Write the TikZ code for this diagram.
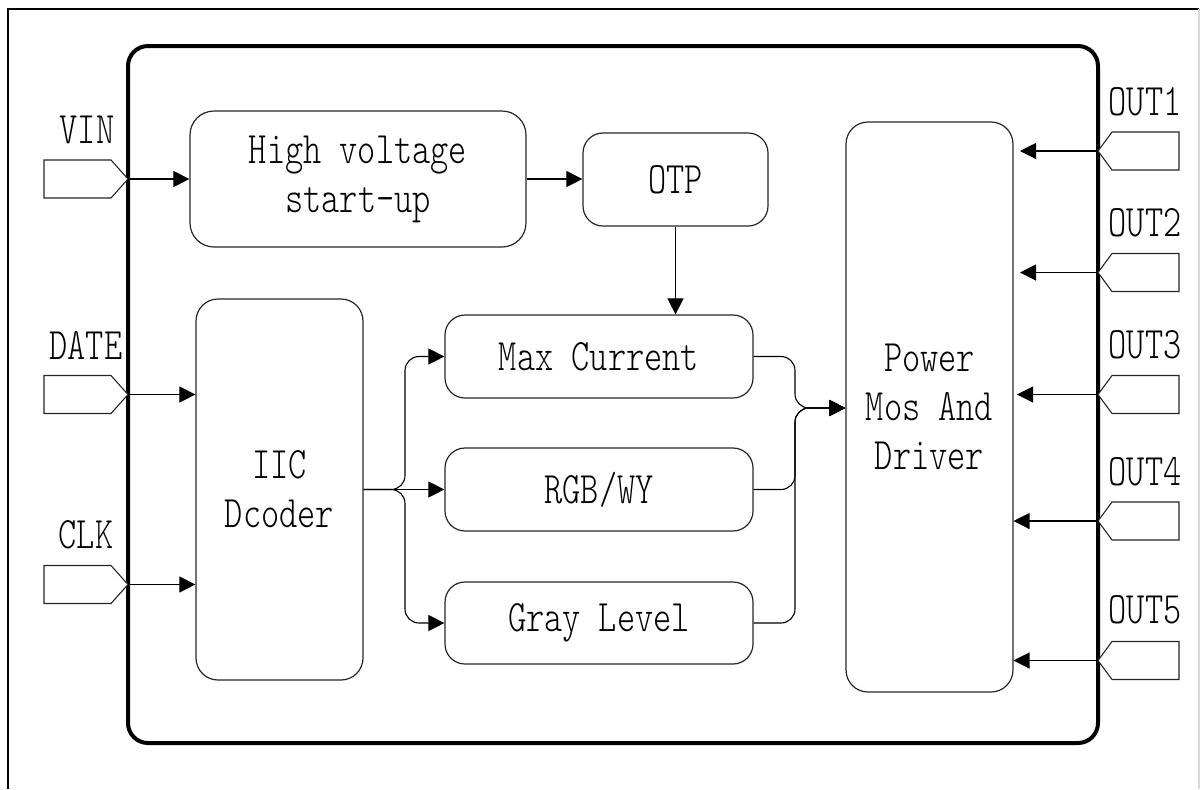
\documentclass[tikz,border=0pt]{standalone}
\usepackage{fontspec}
\newfontfamily\dfont[FakeStretch=0.77]{lmmonolt10-regular.otf}
\usetikzlibrary{arrows.meta}
\tikzset{
  blk/.style={draw=black!85, line width=0.6pt, rounded corners=#1, align=center, inner sep=0pt},
  blk/.default=11pt,
  lbl/.style={inner sep=0pt},
  con/.style={line width=0.55pt},
  arr/.style={con, -{Triangle[length=8pt,width=8pt]}},
  pin/.style={draw=black!85, line width=0.55pt, fill=white}
}
\begin{document}
\begin{tikzpicture}[x=0.5pt, y=-0.5pt, font=\dfont\fontsize{22.5}{24.5}\selectfont]
\useasboundingbox (0,0) rectangle (1200,789);
% outer frame
\draw[line width=1pt] (8,789) -- (8,9) -- (1199,9);
\draw[black!15, line width=0.6pt] (1199,9) -- (1199,789);
% main chip outline
\draw[line width=2pt, rounded corners=10pt] (128,46) rectangle (1098,743);
% blocks
\node[blk=12pt, minimum width=168pt, minimum height=68pt] (hv) at (358,179) {High voltage\\start-up};
\node[blk=10pt, minimum width=92.5pt, minimum height=46.5pt] (otp) at (675.5,179.5) {OTP};
\node[blk=11pt, minimum width=83.5pt, minimum height=190.5pt] (iic) at (279.5,489.5) {IIC\\Dcoder};
\node[blk=10pt, minimum width=154pt, minimum height=41.5pt] (max) at (599,356.5) {Max Current};
\node[blk=10pt, minimum width=154pt, minimum height=41.5pt] (rgb) at (599,489.5) {RGB/WY};
\node[blk=10pt, minimum width=154pt, minimum height=41pt] (gray) at (599,623) {Gray Level};
\node[blk=11pt, minimum width=83.5pt, minimum height=285pt] (pwr) at (929.5,407) {Power\\Mos And\\Driver};
% input pins
\coordinate (vin) at (128,179);
\coordinate (date) at (128,394.5);
\coordinate (clk) at (128,584.5);
\foreach \p in {vin,date,clk}{
  \draw[pin] (\p) -- ++(-17,-19) -- ++(-67,0) -- ++(0,38) -- ++(67,0) -- cycle;
}
\node[lbl] (lvin) at (87,130) {VIN};
\node[lbl] (ldate) at (86,345) {DATE};
\node[lbl] (lclk) at (86,535) {CLK};
% output pins
\coordinate (o1) at (1098,151);
\coordinate (o2) at (1098,272.5);
\coordinate (o3) at (1098,394.5);
\coordinate (o4) at (1098,521);
\coordinate (o5) at (1098,660.5);
\foreach \p in {o1,o2,o3,o4,o5}{
  \draw[pin] (\p) -- ++(14,-19) -- ++(67,0) -- ++(0,38) -- ++(-67,0) -- cycle;
}
\node[lbl] (lo1) at (1145,102) {OUT1};
\node[lbl] (lo2) at (1145,223) {OUT2};
\node[lbl] (lo3) at (1145,345) {OUT3};
\node[lbl] (lo4) at (1145,472) {OUT4};
\node[lbl] (lo5) at (1145,610) {OUT5};
\coordinate (e1) at (1020,151);
\coordinate (e2) at (1020,272.5);
\coordinate (e3) at (1017,394.5);
\coordinate (e4) at (1013.5,521);
\coordinate (e5) at (1013.5,660.5);
\foreach \a/\b in {o1/e1,o2/e2,o3/e3,o4/e4,o5/e5}{
  \draw[arr] (\a) -- (\b);
}
% connections
\draw[arr] (vin) -- (hv.west);
\draw[arr] (hv.east) -- (otp.west |- hv.east);
\draw[arr] (otp.south) -- (otp.south |- max.north);
\draw[arr] (date) -- (iic.west |- date);
\draw[arr] (clk) -- (iic.west |- clk);
\coordinate (spl) at (405,489.5);
\draw[arr] (iic.east) -- (rgb.west);
\draw[arr, rounded corners=7pt] (iic.east) -- (spl) -- (spl |- max.west) -- (max.west);
\draw[arr, rounded corners=7pt] (iic.east) -- (spl) -- (spl |- gray.west) -- (gray.west);
\coordinate (mrg) at (795,408);
\draw[arr, rounded corners=7pt] (max.east) -- (mrg |- max.east) -- (mrg) -- (mrg -| pwr.west);
\draw[arr, rounded corners=7pt] (rgb.east) -- (mrg |- rgb.east) -- (mrg) -- (mrg -| pwr.west);
\draw[arr, rounded corners=7pt] (gray.east) -- (mrg |- gray.east) -- (mrg) -- (mrg -| pwr.west);
\end{tikzpicture}
\end{document}
